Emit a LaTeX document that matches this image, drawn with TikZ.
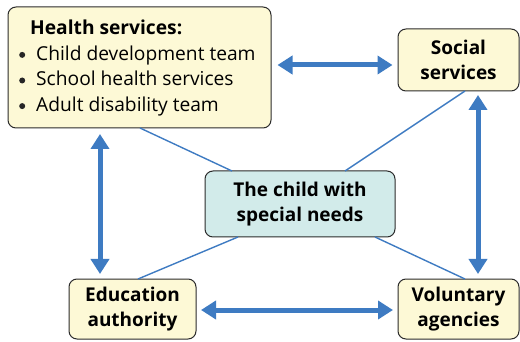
\documentclass[tikz,border=0pt]{standalone}
\usepackage{fontspec}
\setmainfont{Open Sans}
\usetikzlibrary{arrows.meta}
\definecolor{boxfill}{HTML}{FDF9D6}
\definecolor{midfill}{HTML}{D2EBEA}
\definecolor{arrblue}{HTML}{3E7BC2}
\definecolor{edge}{HTML}{2B2B2B}
\newcommand{\bul}{\tikz[baseline=0pt]\fill[black!85] (3pt,5.3pt) circle[radius=3pt];\hspace{11pt}}
\tikzset{
  x=1pt,y=-1pt,
  agency/.style={draw=edge,line width=1pt,rounded corners=8pt,fill=boxfill,inner sep=0pt,align=center,font=\fontsize{19}{25.5}\selectfont\bfseries},
  link/.style={draw=arrblue,line width=1.4pt},
  twoway/.style={draw=arrblue,line width=5pt,{Triangle[length=15pt,width=18pt]}-{Triangle[length=15pt,width=18pt]}},
}
\begin{document}
\begin{tikzpicture}
\useasboundingbox (0,0) rectangle (520,342);
\node[agency,minimum width=263pt,minimum height=121pt] (hs) at (139.5,67.5) {};
\node[anchor=west,inner sep=0pt,align=left,font=\fontsize{19.2}{25.6}\selectfont] (hstext) at (19,68)
  {\hspace*{11pt}\textbf{Health services:}\\
   \bul Child development team\\
   \bul School health services\\
   \bul Adult disability team};
\node[agency,minimum width=121pt,minimum height=62pt] (ss) at (458.5,60) {Social\\services};
\node[agency,fill=midfill,minimum width=190pt,minimum height=66pt] (ch) at (300,204) {The child with\\special needs};
\node[agency,minimum width=127pt,minimum height=60pt] (ed) at (132.5,309) {Education\\authority};
\node[agency,minimum width=121pt,minimum height=60pt] (va) at (458.5,309) {Voluntary\\agencies};
\coordinate (hsA) at (140,128); \coordinate (chA) at (232,171);
\coordinate (ssA) at (465,91);  \coordinate (chB) at (345,171);
\coordinate (chC) at (238,237); \coordinate (edA) at (138,279);
\coordinate (chD) at (375,237); \coordinate (vaA) at (465,279);
\draw[link] (hsA) -- (chA);
\draw[link] (ssA) -- (chB);
\draw[link] (chC) -- (edA);
\draw[link] (chD) -- (vaA);
\draw[twoway] ([xshift=6pt]hs.east |- 0,65) -- ([xshift=-5pt]ss.west |- 0,65);
\draw[twoway] (100,134) -- (100,274);
\draw[twoway] (478,95) -- (478,274);
\draw[twoway] (201,310) -- (393,310);
\end{tikzpicture}
\end{document}
